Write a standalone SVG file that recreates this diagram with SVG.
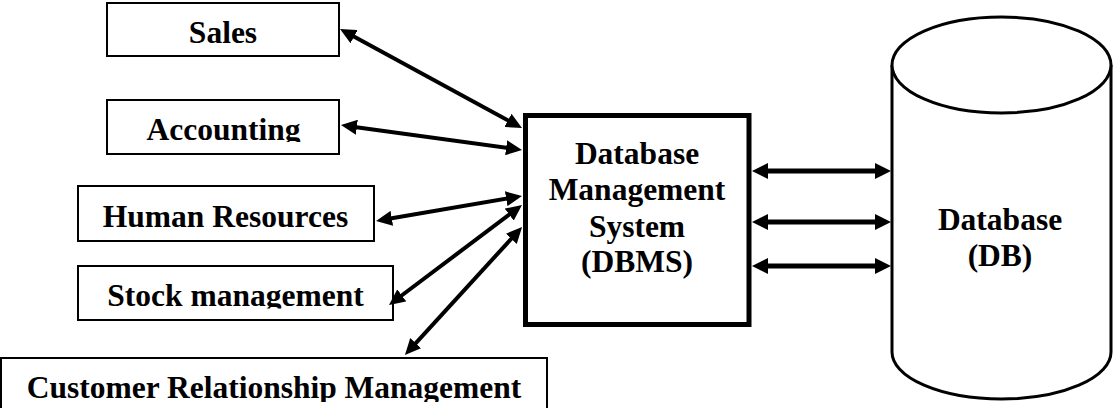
<svg xmlns="http://www.w3.org/2000/svg" width="1116" height="408" viewBox="0 0 1116 408">
  <style>
    .box { fill: #ffffff; stroke: #000000; stroke-width: 2; }
    .lbl { font-family: "Liberation Serif", "Times New Roman", serif; font-weight: bold; font-size: 31.5px; fill: #000000; text-anchor: middle; }
    .conn { stroke: #000000; stroke-width: 4; fill: none; marker-start: url(#ah); marker-end: url(#ah); }
    .conn2 { stroke: #000000; stroke-width: 5; fill: none; marker-start: url(#ah2); marker-end: url(#ah2); }
  </style>
  <defs>
    <marker id="ah" markerUnits="userSpaceOnUse" markerWidth="16" markerHeight="15" refX="6" refY="7.5" orient="auto-start-reverse" viewBox="0 0 16 15">
      <path d="M0,0 L16,7.5 L0,15 z" fill="#000000"/>
    </marker>
    <marker id="ah2" markerUnits="userSpaceOnUse" markerWidth="16" markerHeight="16" refX="6" refY="8" orient="auto-start-reverse" viewBox="0 0 16 16">
      <path d="M0,0 L16,8 L0,16 z" fill="#000000"/>
    </marker>
    <clipPath id="clipAcc"><rect x="100" y="95" width="250" height="47"/></clipPath>
    <clipPath id="clipStock"><rect x="70" y="260" width="330" height="48.5"/></clipPath>
    <clipPath id="clipCrm"><rect x="0" y="350" width="560" height="52"/></clipPath>
  </defs>
  <rect width="1116" height="408" fill="#ffffff"/>

  <g id="sales">
    <rect class="box" x="107" y="3" width="232" height="53"/>
    <text class="lbl" x="223" y="43">Sales</text>
  </g>
  <g id="accounting">
    <rect class="box" x="107" y="100" width="232" height="54"/>
    <text class="lbl" x="223.5" y="140" clip-path="url(#clipAcc)">Accounting</text>
  </g>
  <g id="human-resources">
    <rect class="box" x="78" y="186" width="296" height="55"/>
    <text class="lbl" x="225.5" y="227">Human Resources</text>
  </g>
  <g id="stock-management">
    <rect class="box" x="78" y="266" width="315" height="54"/>
    <text class="lbl" x="235.5" y="306" clip-path="url(#clipStock)">Stock management</text>
  </g>
  <g id="crm">
    <rect class="box" x="1" y="358" width="546" height="60"/>
    <text class="lbl" x="274" y="398" clip-path="url(#clipCrm)">Customer Relationship Management</text>
  </g>

  <g id="dbms">
    <rect x="525.5" y="115.5" width="223.5" height="209" fill="#ffffff" stroke="#000000" stroke-width="5"/>
    <text class="lbl" x="637" y="164">Database</text>
    <text class="lbl" x="637" y="200">Management</text>
    <text class="lbl" x="637" y="237">System</text>
    <text class="lbl" x="637" y="272">(DBMS)</text>
  </g>

  <g id="database">
    <path d="M892,65 L892,352 A109.5,47 0 0 0 1111,352 L1111,65" fill="#ffffff" stroke="#000000" stroke-width="3"/>
    <ellipse cx="1001.5" cy="65" rx="109.5" ry="48" fill="#ffffff" stroke="#000000" stroke-width="3"/>
    <text class="lbl" x="1000" y="230">Database</text>
    <text class="lbl" x="1000" y="266">(DB)</text>
  </g>

  <g id="connectors">
    <line class="conn" x1="348.8" y1="33.8" x2="513.2" y2="123.2"/>
    <line class="conn" x1="350.9" y1="126.4" x2="512.1" y2="148.6"/>
    <line class="conn" x1="385.9" y1="219.3" x2="512.1" y2="197.7"/>
    <line class="conn" x1="397" y1="299" x2="514" y2="211"/>
    <line class="conn" x1="411.7" y1="347.6" x2="515.3" y2="234.4"/>
    <line class="conn2" x1="762" y1="171" x2="881" y2="171"/>
    <line class="conn2" x1="762" y1="222" x2="881" y2="222"/>
    <line class="conn2" x1="762" y1="266" x2="881" y2="266"/>
  </g>
</svg>
